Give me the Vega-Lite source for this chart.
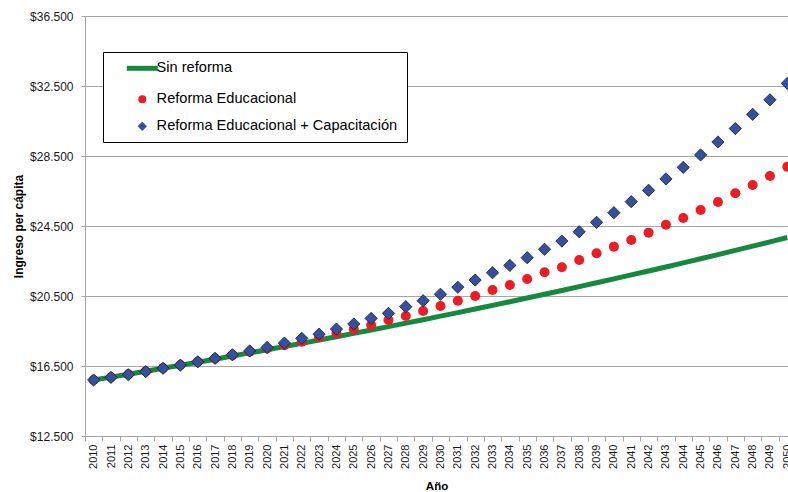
{
  "$schema": "https://vega.github.io/schema/vega-lite/v6.json",
  "autosize": {"type": "none"},
  "width": 703,
  "height": 420,
  "padding": {"left": 85, "top": 16, "right": 0, "bottom": 56},
  "background": "white",
  "config": {
    "view": {"stroke": null},
    "font": "Liberation Sans"
  },
  "datasets": {
    "ingreso": [
      {"anio": 2010, "serie": "Sin reforma", "valor": 15700},
      {"anio": 2011, "serie": "Sin reforma", "valor": 15865},
      {"anio": 2012, "serie": "Sin reforma", "valor": 16030},
      {"anio": 2013, "serie": "Sin reforma", "valor": 16200},
      {"anio": 2014, "serie": "Sin reforma", "valor": 16370},
      {"anio": 2015, "serie": "Sin reforma", "valor": 16540},
      {"anio": 2016, "serie": "Sin reforma", "valor": 16715},
      {"anio": 2017, "serie": "Sin reforma", "valor": 16890},
      {"anio": 2018, "serie": "Sin reforma", "valor": 17070},
      {"anio": 2019, "serie": "Sin reforma", "valor": 17250},
      {"anio": 2020, "serie": "Sin reforma", "valor": 17430},
      {"anio": 2021, "serie": "Sin reforma", "valor": 17610},
      {"anio": 2022, "serie": "Sin reforma", "valor": 17795},
      {"anio": 2023, "serie": "Sin reforma", "valor": 17985},
      {"anio": 2024, "serie": "Sin reforma", "valor": 18170},
      {"anio": 2025, "serie": "Sin reforma", "valor": 18365},
      {"anio": 2026, "serie": "Sin reforma", "valor": 18555},
      {"anio": 2027, "serie": "Sin reforma", "valor": 18750},
      {"anio": 2028, "serie": "Sin reforma", "valor": 18950},
      {"anio": 2029, "serie": "Sin reforma", "valor": 19145},
      {"anio": 2030, "serie": "Sin reforma", "valor": 19350},
      {"anio": 2031, "serie": "Sin reforma", "valor": 19550},
      {"anio": 2032, "serie": "Sin reforma", "valor": 19755},
      {"anio": 2033, "serie": "Sin reforma", "valor": 19965},
      {"anio": 2034, "serie": "Sin reforma", "valor": 20175},
      {"anio": 2035, "serie": "Sin reforma", "valor": 20385},
      {"anio": 2036, "serie": "Sin reforma", "valor": 20600},
      {"anio": 2037, "serie": "Sin reforma", "valor": 20815},
      {"anio": 2038, "serie": "Sin reforma", "valor": 21035},
      {"anio": 2039, "serie": "Sin reforma", "valor": 21255},
      {"anio": 2040, "serie": "Sin reforma", "valor": 21480},
      {"anio": 2041, "serie": "Sin reforma", "valor": 21705},
      {"anio": 2042, "serie": "Sin reforma", "valor": 21930},
      {"anio": 2043, "serie": "Sin reforma", "valor": 22160},
      {"anio": 2044, "serie": "Sin reforma", "valor": 22395},
      {"anio": 2045, "serie": "Sin reforma", "valor": 22630},
      {"anio": 2046, "serie": "Sin reforma", "valor": 22865},
      {"anio": 2047, "serie": "Sin reforma", "valor": 23105},
      {"anio": 2048, "serie": "Sin reforma", "valor": 23350},
      {"anio": 2049, "serie": "Sin reforma", "valor": 23595},
      {"anio": 2050, "serie": "Sin reforma", "valor": 23845},

      {"anio": 2010, "serie": "Reforma Educacional", "valor": 15700},
      {"anio": 2011, "serie": "Reforma Educacional", "valor": 15860},
      {"anio": 2012, "serie": "Reforma Educacional", "valor": 16030},
      {"anio": 2013, "serie": "Reforma Educacional", "valor": 16200},
      {"anio": 2014, "serie": "Reforma Educacional", "valor": 16380},
      {"anio": 2015, "serie": "Reforma Educacional", "valor": 16560},
      {"anio": 2016, "serie": "Reforma Educacional", "valor": 16740},
      {"anio": 2017, "serie": "Reforma Educacional", "valor": 16930},
      {"anio": 2018, "serie": "Reforma Educacional", "valor": 17120},
      {"anio": 2019, "serie": "Reforma Educacional", "valor": 17310},
      {"anio": 2020, "serie": "Reforma Educacional", "valor": 17500},
      {"anio": 2021, "serie": "Reforma Educacional", "valor": 17690},
      {"anio": 2022, "serie": "Reforma Educacional", "valor": 17890},
      {"anio": 2023, "serie": "Reforma Educacional", "valor": 18140},
      {"anio": 2024, "serie": "Reforma Educacional", "valor": 18370},
      {"anio": 2025, "serie": "Reforma Educacional", "valor": 18600},
      {"anio": 2026, "serie": "Reforma Educacional", "valor": 18840},
      {"anio": 2027, "serie": "Reforma Educacional", "valor": 19130},
      {"anio": 2028, "serie": "Reforma Educacional", "valor": 19360},
      {"anio": 2029, "serie": "Reforma Educacional", "valor": 19640},
      {"anio": 2030, "serie": "Reforma Educacional", "valor": 19930},
      {"anio": 2031, "serie": "Reforma Educacional", "valor": 20230},
      {"anio": 2032, "serie": "Reforma Educacional", "valor": 20500},
      {"anio": 2033, "serie": "Reforma Educacional", "valor": 20840},
      {"anio": 2034, "serie": "Reforma Educacional", "valor": 21130},
      {"anio": 2035, "serie": "Reforma Educacional", "valor": 21470},
      {"anio": 2036, "serie": "Reforma Educacional", "valor": 21860},
      {"anio": 2037, "serie": "Reforma Educacional", "valor": 22140},
      {"anio": 2038, "serie": "Reforma Educacional", "valor": 22560},
      {"anio": 2039, "serie": "Reforma Educacional", "valor": 22940},
      {"anio": 2040, "serie": "Reforma Educacional", "valor": 23320},
      {"anio": 2041, "serie": "Reforma Educacional", "valor": 23700},
      {"anio": 2042, "serie": "Reforma Educacional", "valor": 24120},
      {"anio": 2043, "serie": "Reforma Educacional", "valor": 24570},
      {"anio": 2044, "serie": "Reforma Educacional", "valor": 24960},
      {"anio": 2045, "serie": "Reforma Educacional", "valor": 25410},
      {"anio": 2046, "serie": "Reforma Educacional", "valor": 25870},
      {"anio": 2047, "serie": "Reforma Educacional", "valor": 26370},
      {"anio": 2048, "serie": "Reforma Educacional", "valor": 26840},
      {"anio": 2049, "serie": "Reforma Educacional", "valor": 27360},
      {"anio": 2050, "serie": "Reforma Educacional", "valor": 27890},

      {"anio": 2010, "serie": "Reforma Educacional + Capacitación", "valor": 15700},
      {"anio": 2011, "serie": "Reforma Educacional + Capacitación", "valor": 15850},
      {"anio": 2012, "serie": "Reforma Educacional + Capacitación", "valor": 16000},
      {"anio": 2013, "serie": "Reforma Educacional + Capacitación", "valor": 16180},
      {"anio": 2014, "serie": "Reforma Educacional + Capacitación", "valor": 16370},
      {"anio": 2015, "serie": "Reforma Educacional + Capacitación", "valor": 16550},
      {"anio": 2016, "serie": "Reforma Educacional + Capacitación", "valor": 16740},
      {"anio": 2017, "serie": "Reforma Educacional + Capacitación", "valor": 16940},
      {"anio": 2018, "serie": "Reforma Educacional + Capacitación", "valor": 17140},
      {"anio": 2019, "serie": "Reforma Educacional + Capacitación", "valor": 17360},
      {"anio": 2020, "serie": "Reforma Educacional + Capacitación", "valor": 17560},
      {"anio": 2021, "serie": "Reforma Educacional + Capacitación", "valor": 17810},
      {"anio": 2022, "serie": "Reforma Educacional + Capacitación", "valor": 18080},
      {"anio": 2023, "serie": "Reforma Educacional + Capacitación", "valor": 18320},
      {"anio": 2024, "serie": "Reforma Educacional + Capacitación", "valor": 18610},
      {"anio": 2025, "serie": "Reforma Educacional + Capacitación", "valor": 18900},
      {"anio": 2026, "serie": "Reforma Educacional + Capacitación", "valor": 19220},
      {"anio": 2027, "serie": "Reforma Educacional + Capacitación", "valor": 19510},
      {"anio": 2028, "serie": "Reforma Educacional + Capacitación", "valor": 19890},
      {"anio": 2029, "serie": "Reforma Educacional + Capacitación", "valor": 20230},
      {"anio": 2030, "serie": "Reforma Educacional + Capacitación", "valor": 20600},
      {"anio": 2031, "serie": "Reforma Educacional + Capacitación", "valor": 21000},
      {"anio": 2032, "serie": "Reforma Educacional + Capacitación", "valor": 21410},
      {"anio": 2033, "serie": "Reforma Educacional + Capacitación", "valor": 21830},
      {"anio": 2034, "serie": "Reforma Educacional + Capacitación", "valor": 22250},
      {"anio": 2035, "serie": "Reforma Educacional + Capacitación", "valor": 22690},
      {"anio": 2036, "serie": "Reforma Educacional + Capacitación", "valor": 23170},
      {"anio": 2037, "serie": "Reforma Educacional + Capacitación", "valor": 23640},
      {"anio": 2038, "serie": "Reforma Educacional + Capacitación", "valor": 24170},
      {"anio": 2039, "serie": "Reforma Educacional + Capacitación", "valor": 24710},
      {"anio": 2040, "serie": "Reforma Educacional + Capacitación", "valor": 25260},
      {"anio": 2041, "serie": "Reforma Educacional + Capacitación", "valor": 25890},
      {"anio": 2042, "serie": "Reforma Educacional + Capacitación", "valor": 26540},
      {"anio": 2043, "serie": "Reforma Educacional + Capacitación", "valor": 27190},
      {"anio": 2044, "serie": "Reforma Educacional + Capacitación", "valor": 27850},
      {"anio": 2045, "serie": "Reforma Educacional + Capacitación", "valor": 28560},
      {"anio": 2046, "serie": "Reforma Educacional + Capacitación", "valor": 29300},
      {"anio": 2047, "serie": "Reforma Educacional + Capacitación", "valor": 30070},
      {"anio": 2048, "serie": "Reforma Educacional + Capacitación", "valor": 30880},
      {"anio": 2049, "serie": "Reforma Educacional + Capacitación", "valor": 31710},
      {"anio": 2050, "serie": "Reforma Educacional + Capacitación", "valor": 32650}
    ]
  },
  "data": {"name": "ingreso"},
  "encoding": {
    "x": {
      "field": "anio",
      "type": "quantitative",
      "scale": {"domain": [2009.5, 2050.04], "nice": false, "zero": false},
      "axis": {
        "title": "Año",
        "values": [2010, 2011, 2012, 2013, 2014, 2015, 2016, 2017, 2018, 2019, 2020, 2021, 2022, 2023, 2024, 2025, 2026, 2027, 2028, 2029, 2030, 2031, 2032, 2033, 2034, 2035, 2036, 2037, 2038, 2039, 2040, 2041, 2042, 2043, 2044, 2045, 2046, 2047, 2048, 2049, 2050],
        "format": "d",
        "labelAngle": -90,
        "labelFlush": false,
        "labelOverlap": false,
        "labelBound": false,
        "tickOffset": -8.67,
        "labelOffset": 8.67,
        "grid": false,
        "domainColor": "#a6a6a6",
        "tickColor": "#a6a6a6",
        "tickSize": 5,
        "labelPadding": 3,
        "labelFontSize": 11,
        "labelColor": "#1a1a1a",
        "titleFontSize": 11.5,
        "titleFontWeight": "bold",
        "titleColor": "#000",
        "titlePadding": 12
      }
    },
    "y": {
      "field": "valor",
      "type": "quantitative",
      "scale": {"domain": [12500, 36500], "nice": false, "zero": false},
      "axis": {
        "title": "Ingreso per cápita",
        "values": [12500, 16500, 20500, 24500, 28500, 32500, 36500],
        "labelExpr": "'$' + replace(format(datum.value, ',.0f'), ',', '.')",
        "grid": true,
        "gridColor": "#a6a6a6",
        "domainColor": "#a6a6a6",
        "tickColor": "#a6a6a6",
        "tickSize": 4,
        "labelPadding": 8,
        "labelFontSize": 12,
        "labelColor": "#1a1a1a",
        "titleFontSize": 12,
        "titleFontWeight": "bold",
        "titleColor": "#000",
        "titlePadding": 4
      }
    }
  },
  "layer": [
    {
      "transform": [{"filter": "datum.serie === 'Sin reforma'"}],
      "mark": {"type": "line", "strokeWidth": 5},
      "encoding": {
        "color": {
          "field": "serie",
          "type": "nominal",
          "scale": {
            "domain": ["Sin reforma", "Reforma Educacional", "Reforma Educacional + Capacitación"],
            "range": ["#15893d", "#ed1c24", "#3451a1"]
          },
          "legend": {
            "orient": "none",
            "legendX": 18,
            "legendY": 36,
            "title": null,
            "fillColor": "white",
            "strokeColor": "#000",
            "padding": 9,
            "symbolOffset": 23,
            "labelOffset": 7,
            "symbolSize": 64,
            "rowPadding": 12,
            "labelFontSize": 14.6,
            "labelColor": "#000",
            "labelLimit": 400,
            "encode": {
              "symbols": {
                "update": {
                  "shape": {"signal": "datum.value === 'Sin reforma' ? 'stroke' : datum.value === 'Reforma Educacional' ? 'circle' : 'diamond'"},
                  "size": {"signal": "datum.value === 'Sin reforma' ? 961 : datum.value === 'Reforma Educacional' ? 64 : 72"},
                  "fill": {"signal": "datum.value === 'Sin reforma' ? 'transparent' : datum.value === 'Reforma Educacional' ? '#ed1c24' : '#3451a1'"},
                  "stroke": {"signal": "datum.value === 'Sin reforma' ? '#15893d' : datum.value === 'Reforma Educacional' ? 'transparent' : '#1a1a1a'"},
                  "strokeWidth": {"signal": "datum.value === 'Sin reforma' ? 5 : datum.value === 'Reforma Educacional' ? 0 : 0.8"},
                  "opacity": {"value": 1}
                }
              }
            }
          }
        }
      }
    },
    {
      "transform": [{"filter": "datum.serie === 'Reforma Educacional'"}],
      "mark": {"type": "point", "shape": "circle", "filled": true, "size": 100, "opacity": 1},
      "encoding": {"color": {"field": "serie", "type": "nominal"}}
    },
    {
      "transform": [{"filter": "datum.serie === 'Reforma Educacional + Capacitación'"}],
      "mark": {"type": "point", "shape": "diamond", "filled": true, "size": 150, "opacity": 1, "stroke": "#1a1a1a", "strokeWidth": 0.8},
      "encoding": {"color": {"field": "serie", "type": "nominal"}}
    }
  ]
}
